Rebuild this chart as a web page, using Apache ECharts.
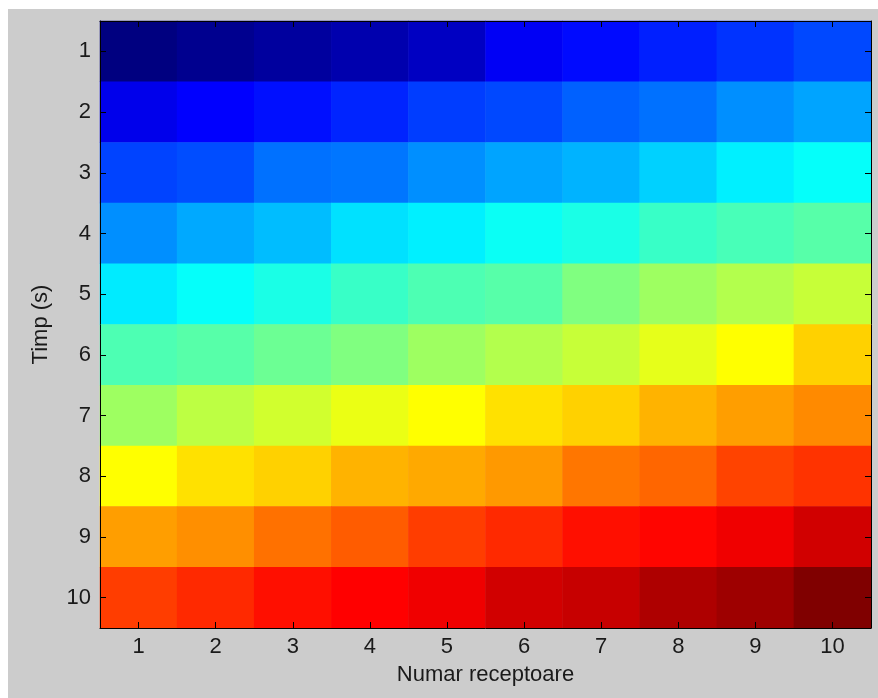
<!DOCTYPE html>
<html>
<head>
<meta charset="utf-8">
<script src="https://cdn.jsdelivr.net/npm/echarts@6/dist/echarts.min.js"></script>
<style>
html,body{margin:0;padding:0;background:#ffffff;}
#chart{width:878px;height:698px;}
</style>
</head>
<body>
<div id="chart"></div>
<script>
// Receiver categories (x) and time categories (y)
const receptoare = ['1','2','3','4','5','6','7','8','9','10'];
const timp = ['1','2','3','4','5','6','7','8','9','10'];

// Cell values per time row (0..100 on the jet colour scale)
const t1  = [0, 1.5, 3, 4.5, 6.5, 11.5, 13.5, 15.5, 17.5, 19.5];
const t2  = [10.5, 12.5, 14, 16, 18.5, 19.5, 22, 23.5, 26.5, 28.5];
const t3  = [19, 20, 23.5, 24, 26.5, 28.5, 30, 33, 36, 38];
const t4  = [26.5, 29, 31, 34.5, 36, 38.5, 40, 43, 44.5, 46];
const t5  = [35.5, 38, 40, 43, 45, 46, 50, 53, 55, 57];
const t6  = [45, 46, 48, 50, 53, 55, 57, 60, 62.5, 67];
const t7  = [53, 56, 58, 60.5, 62.5, 65.5, 67, 70, 72, 74];
const t8  = [62.5, 65.5, 67, 70, 71, 72.5, 76, 77.5, 81, 82.5];
const t9  = [72, 73.5, 76.5, 78.5, 81.5, 83.5, 86, 87, 89, 92];
const t10 = [81.5, 83.5, 86, 87.5, 89, 92, 93, 95.5, 97, 100];
const rows = [t1, t2, t3, t4, t5, t6, t7, t8, t9, t10];

const cells = [];
rows.forEach(function (r, yi) {
  r.forEach(function (v, xi) { cells.push([xi, yi, v]); });
});

const jet = ['#000080','#0000ff','#0080ff','#00ffff','#80ff80','#ffff00','#ff8000','#ff0000','#800000'];
const txt = '#1a1a1a';
const font = 'Liberation Sans, Arial, sans-serif';

const chart = echarts.init(document.getElementById('chart'));
chart.setOption({
  backgroundColor: '#ffffff',
  animation: false,
  graphic: [{
    type: 'rect', z: -10, silent: true,
    shape: {x: 8, y: 9, width: 870, height: 689},
    style: {fill: '#cccccc'}
  }],
  grid: {left: 100, top: 21, width: 771, height: 607, show: false},
  visualMap: {show: false, type: 'continuous', min: 0, max: 100, dimension: 2, inRange: {color: jet}},
  xAxis: [{
    type: 'category', data: receptoare, position: 'bottom', z: 10,
    name: 'Numar receptoare', nameLocation: 'middle', nameGap: 36,
    nameTextStyle: {color: txt, fontSize: 22, fontFamily: font},
    axisLine: {show: true, lineStyle: {color: '#000', width: 1}},
    axisTick: {show: true, inside: true, length: 6, alignWithLabel: true, lineStyle: {color: '#000'}},
    axisLabel: {color: txt, fontSize: 22, fontFamily: font, margin: 8},
    splitLine: {show: false}
  }, {
    type: 'category', data: receptoare, position: 'top', z: 10,
    axisLine: {show: true, lineStyle: {color: '#000', width: 1}},
    axisTick: {show: true, inside: true, length: 6, alignWithLabel: true, lineStyle: {color: '#000'}},
    axisLabel: {show: false}, splitLine: {show: false}
  }],
  yAxis: [{
    type: 'category', data: timp, inverse: true, position: 'left', z: 10,
    name: 'Timp (s)', nameLocation: 'middle', nameGap: 48,
    nameTextStyle: {color: txt, fontSize: 22, fontFamily: font},
    axisLine: {show: true, lineStyle: {color: '#000', width: 1}},
    axisTick: {show: true, inside: true, length: 6, alignWithLabel: true, lineStyle: {color: '#000'}},
    axisLabel: {color: txt, fontSize: 22, fontFamily: font, margin: 9},
    splitLine: {show: false}
  }, {
    type: 'category', data: timp, inverse: true, position: 'right', z: 10,
    axisLine: {show: true, lineStyle: {color: '#000', width: 1}},
    axisTick: {show: true, inside: true, length: 6, alignWithLabel: true, lineStyle: {color: '#000'}},
    axisLabel: {show: false}, splitLine: {show: false}
  }],
  series: [{
    type: 'heatmap', xAxisIndex: 0, yAxisIndex: 0, data: cells, z: 2,
    itemStyle: {borderWidth: 0},
    emphasis: {disabled: true}
  }]
});
</script>
</body>
</html>
